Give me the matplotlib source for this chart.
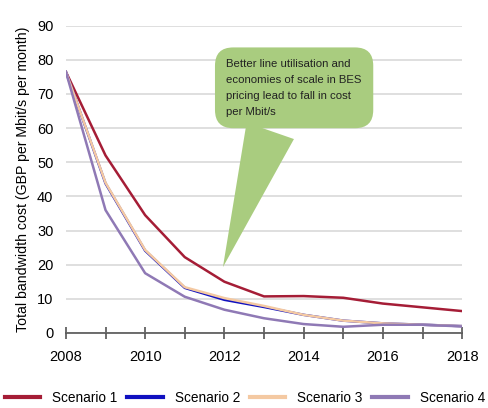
import matplotlib.pyplot as plt

plt.rcParams['font.family'] = ['Liberation Sans', 'DejaVu Sans']

years = [2008, 2009, 2010, 2011, 2012, 2013, 2014, 2015, 2016, 2017, 2018]
scenario1 = [76.5, 52.0, 34.5, 22.2, 15.0, 10.7, 10.8, 10.3, 8.6, 7.5, 6.4]
scenario2 = [76.5, 43.8, 24.1, 13.2, 9.7, 7.6, 5.3, 3.6, 2.8, 2.4, 2.0]
scenario3 = [76.5, 44.0, 24.3, 13.4, 10.2, 7.9, 5.3, 3.6, 2.8, 2.4, 2.0]
scenario4 = [76.5, 36.0, 17.5, 10.6, 6.8, 4.3, 2.6, 1.8, 2.4, 2.4, 1.9]

note = "Better line utilisation and\neconomies of scale in BES\npricing lead to fall in cost\nper Mbit/s"

fig = plt.figure(figsize=(4.88, 4.08), dpi=100)
ax = fig.add_axes([0.135, 0.184, 0.812, 0.753])

ax.plot(years, scenario1, color='#A51D36', lw=1.8, label='Scenario 1')
ax.plot(years, scenario2, color='#1010C0', lw=1.8, label='Scenario 2')
ax.plot(years, scenario3, color='#F4C9A2', lw=1.8, label='Scenario 3')
ax.plot(years, scenario4, color='#8F79B5', lw=1.8, label='Scenario 4')

ax.set_xlim(2008, 2018)
ax.set_ylim(0, 90)
ax.set_yticks(range(0, 91, 10))
ax.set_xticks(range(2008, 2019, 2))
ax.set_xticks(range(2008, 2019), minor=True)
ax.grid(axis='y', color='#D9D9D9', lw=1.2)
ax.set_axisbelow(True)

for s in ['top', 'right', 'left']:
    ax.spines[s].set_visible(False)
ax.spines['bottom'].set_color('#555555')
ax.spines['bottom'].set_linewidth(1.2)
ax.tick_params(axis='x', which='both', direction='inout', length=8, color='#555555',
               width=1.2, labelsize=10.5, pad=8)
ax.tick_params(axis='y', length=0, labelsize=10.5, pad=9)

ax.set_ylabel('Total bandwidth cost (GBP per Mbit/s per month)', fontsize=10.2, labelpad=5)

# speech bubble pointing at 2012
ax.annotate(note, xy=(2011.94, 18.5), xytext=(2012.05, 80.3),
            fontsize=8.2, linespacing=1.75, va='top', ha='left', color='#222222',
            bbox=dict(boxstyle='round,pad=1.0,rounding_size=1.6', fc='#A9CC7F', ec='none'),
            arrowprops=dict(arrowstyle='wedge,tail_width=4.4,shrink_factor=0.5',
                            fc='#A9CC7F', ec='none', relpos=(0.36, 0.0)))

ax.legend(loc='upper center', bbox_to_anchor=(0.452, -0.15), ncol=4, frameon=False,
          fontsize=9.8, handlelength=2.6, columnspacing=0.7, handletextpad=0.9)
for h in ax.get_legend().get_lines():
    h.set_linewidth(3)

fig.savefig('out.png', dpi=100)
